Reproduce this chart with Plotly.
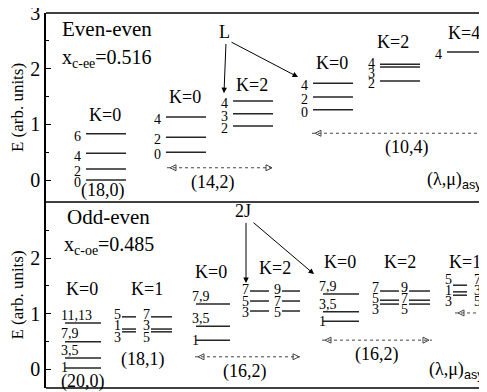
import plotly.graph_objects as go
from plotly.subplots import make_subplots

# ---- even-even panel: bands of the SU(3) irreps ----
ee_K = ["K=0", "K=0", "K=2", "K=0", "K=2", "K=4"]
ee_E = [[0.0, 0.20, 0.48, 0.83],
        [0.50, 0.77, 1.13],
        [0.97, 1.19, 1.42],
        [1.26, 1.49, 1.74],
        [1.78, 2.03, 2.08],
        [2.30]]
ee_L = [["0", "2", "4", "6"],
        ["0", "2", "4"],
        ["2", "3", "4"],
        ["0", "2", "4"],
        ["2", "3", "4"],
        ["4"]]
ee_irreps = ["(18,0)", "(14,2)", "(10,4)"]
ee_xc = "0.516"

# ---- odd-even panel ----
oe_K = ["K=0", "K=1", "K=0", "K=2", "K=0", "K=2", "K=1"]
oe_E = [[0.02, 0.20, 0.49, 0.83],
        [0.67, 0.72, 0.94],
        [0.52, 0.77, 1.17],
        [1.045, 1.225, 1.405],
        [0.86, 1.03, 1.35],
        [1.17, 1.24, 1.405],
        [1.33, 1.39, 1.51]]
oe_L = [["1", "3,5", "7,9", "11,13"],
        ["3", "1", "5"],
        ["1", "3,5", "7,9"],
        ["3", "5", "7"],
        ["1", "3,5", "7,9"],
        ["3", "5", "7"],
        ["3", "1", "5"]]
# second column labels for the split (K>0) bands
oe_L2 = [None, ["5", "3", "7"], None, ["5", "7", "9"], None, ["5", "7", "9"], ["5", "3", "7"]]
oe_irreps = ["(20,0)", "(18,1)", "(16,2)", "(16,2)"]
oe_xc = "0.485"

SERIF = "Liberation Serif, Times New Roman, serif"
LINE = "#262626"


def spread(vals, gap):
    # push label positions apart so close levels get readable labels
    p = list(vals)
    for _ in range(200):
        for i in range(len(p) - 1):
            d = p[i + 1] - p[i]
            if d < gap:
                s = (gap - d) / 2
                p[i] -= s
                p[i + 1] += s
    return p


fig = make_subplots(rows=2, cols=1, vertical_spacing=0)
ann = []


def text(x, y, t, row, size=18, xanchor="center", yanchor="middle"):
    ann.append(dict(x=x, y=y, text=t, xref="x" if row == 1 else "x2",
                    yref="y" if row == 1 else "y2", showarrow=False,
                    xanchor=xanchor, yanchor=yanchor,
                    font=dict(family=SERIF, size=size, color="black")))


def arrow(x0, y0, x1, y1, row):
    xr = "x" if row == 1 else "x2"
    yr = "y" if row == 1 else "y2"
    ann.append(dict(x=x1, y=y1, ax=x0, ay=y0, xref=xr, yref=yr, axref=xr, ayref=yr,
                    showarrow=True, arrowhead=2, arrowsize=1.1, arrowwidth=1,
                    arrowcolor="black", text=""))


def levels(x0, x1, energies, row):
    xs, ys = [], []
    for e in energies:
        xs += [x0, x1, None]
        ys += [e, e, None]
    fig.add_trace(go.Scatter(x=xs, y=ys, mode="lines", line=dict(color=LINE, width=1.5),
                             hoverinfo="skip", showlegend=False), row=row, col=1)


def dotted(x0, x1, y, row):
    fig.add_trace(go.Scatter(x=[x0, x1], y=[y, y], mode="lines",
                             line=dict(color="#444", width=1, dash="dot"),
                             hoverinfo="skip", showlegend=False), row=row, col=1)
    fig.add_trace(go.Scatter(x=[x0 + 3, x1 - 3], y=[y, y], mode="markers",
                             marker=dict(symbol=["arrow-left-open", "arrow-right-open"],
                                         size=6, color="#444", line=dict(width=1)),
                             hoverinfo="skip", showlegend=False), row=row, col=1)


# ---- top panel ----
ee_x0 = [86, 166, 233, 313, 380, 447]
ee_w = [40, 40, 40, 40, 40, 60]
for i, (E, L) in enumerate(zip(ee_E, ee_L)):
    x0 = ee_x0[i]
    levels(x0, x0 + ee_w[i], E, 1)
    for y, t in zip(spread(E, 0.18), L):
        text(x0 - 9, y - 0.05, t, 1, size=14)

for x, y, t in zip([105, 185, 252, 332, 393, 464], [1.17, 1.49, 1.71, 2.10, 2.48, 2.64], ee_K):
    text(x, y, t, 1)
for x, y, t in zip([103, 213, 407], [-0.18, -0.04, 0.59], ee_irreps):
    text(x, y, t, 1)
text(425, 0.0, "(λ,μ)<sub><span style='font-family:Liberation Sans'>asym</span></sub>", 1, xanchor="left")
text(60, 2.71, "Even-even", 1, size=21, xanchor="left")
text(60, 2.19, "x<sub>c-ee</sub>=" + ee_xc, 1, size=20, xanchor="left")
text(224, 2.66, "L", 1)
arrow(226, 2.47, 224, 1.56, 1)
arrow(230, 2.49, 298, 1.85, 1)
dotted(167, 275, 0.22, 1)
dotted(312, 498, 0.84, 1)

# ---- bottom panel ----
# (x0, x1) of each column; split bands have two columns
oe_cols = [[(65, 101)], [(122, 136), (151, 172)], [(196, 230)], [(250, 269), (282, 300)],
           [(323, 359)], [(380, 399), (409, 430)], [(453, 467), (482, 500)]]
for i, E in enumerate(oe_E):
    cols = oe_cols[i]
    if len(cols) == 1:
        x0, x1 = cols[0]
        levels(x0, x1, E, 2)
        for y, t in zip(E, oe_L[i]):
            if t == "1":
                text(x0 - 6, y, t, 2, size=14, xanchor="left")
            else:
                text(x0 - 6, y - 0.03, t, 2, size=14, xanchor="left", yanchor="bottom")
    else:
        for (x0, x1), L in zip(cols, [oe_L[i], oe_L2[i]]):
            levels(x0, x1, E, 2)
            for y, t in zip(spread(E, 0.2), L):
                text(x0 - 5, y, t, 2, size=14)

for x, y, t in zip([82, 147, 211, 275, 340, 400, 465], [1.44, 1.44, 1.75, 1.82, 1.93, 1.93, 1.93], oe_K):
    text(x, y, t, 2)
for x, y, t in zip([83, 143, 245, 377], [-0.22, 0.18, -0.05, 0.27], oe_irreps):
    text(x, y, t, 2)
text(427, -0.03, "(λ,μ)<sub><span style='font-family:Liberation Sans'>asym</span></sub>", 2, xanchor="left")
text(65, 2.73, "Odd-even", 2, size=21, xanchor="left")
text(62, 2.23, "x<sub>c-oe</sub>=" + oe_xc, 2, size=20, xanchor="left")
text(243, 2.85, "2J", 2)
arrow(246, 2.66, 246, 1.55, 2)
arrow(252, 2.66, 314, 1.71, 2)
dotted(195, 302, 0.22, 2)
dotted(322, 432, 0.52, 2)
dotted(455, 505, 1.01, 2)

split = 0.496
fig.update_xaxes(range=[46, 487], visible=False, automargin=False)
fig.update_layout(
    xaxis=dict(domain=[0, 1]), xaxis2=dict(domain=[0, 1]),
    yaxis=dict(domain=[split, 1], range=[-0.395, 3]),
    yaxis2=dict(domain=[0, split], range=[-0.342, 3.009]),
)
fig.update_yaxes(
    tickvals=[0, 1, 2, 3], ticks="inside", ticklen=5, tickwidth=1, tickcolor="black",
    minor=dict(dtick=0.5, ticks="inside", ticklen=3, tickcolor="black"),
    showline=True, linecolor="black", linewidth=1.5, showgrid=False, zeroline=False,
    tickfont=dict(family=SERIF, size=20, color="black"), ticklabeloverflow="allow",
    automargin=False,
    title=dict(text="E (arb. units)", font=dict(family=SERIF, size=17, color="black"), standoff=2),
)
fig.update_yaxes(tickvals=[0, 1, 2], row=2, col=1)

shapes = []
for y in [1, split, 0]:
    shapes.append(dict(type="line", xref="paper", yref="paper", x0=0, x1=1.05, y0=y, y1=y,
                       line=dict(color="black", width=1.5)))

# the page adds an 8px body margin, so the figure is 8px smaller than the window
fig.update_layout(
    width=479, height=384,
    margin=dict(l=38, r=0, t=5, b=4),
    plot_bgcolor="white", paper_bgcolor="white",
    annotations=ann, shapes=shapes, showlegend=False,
)

fig.write_html("out.html")
